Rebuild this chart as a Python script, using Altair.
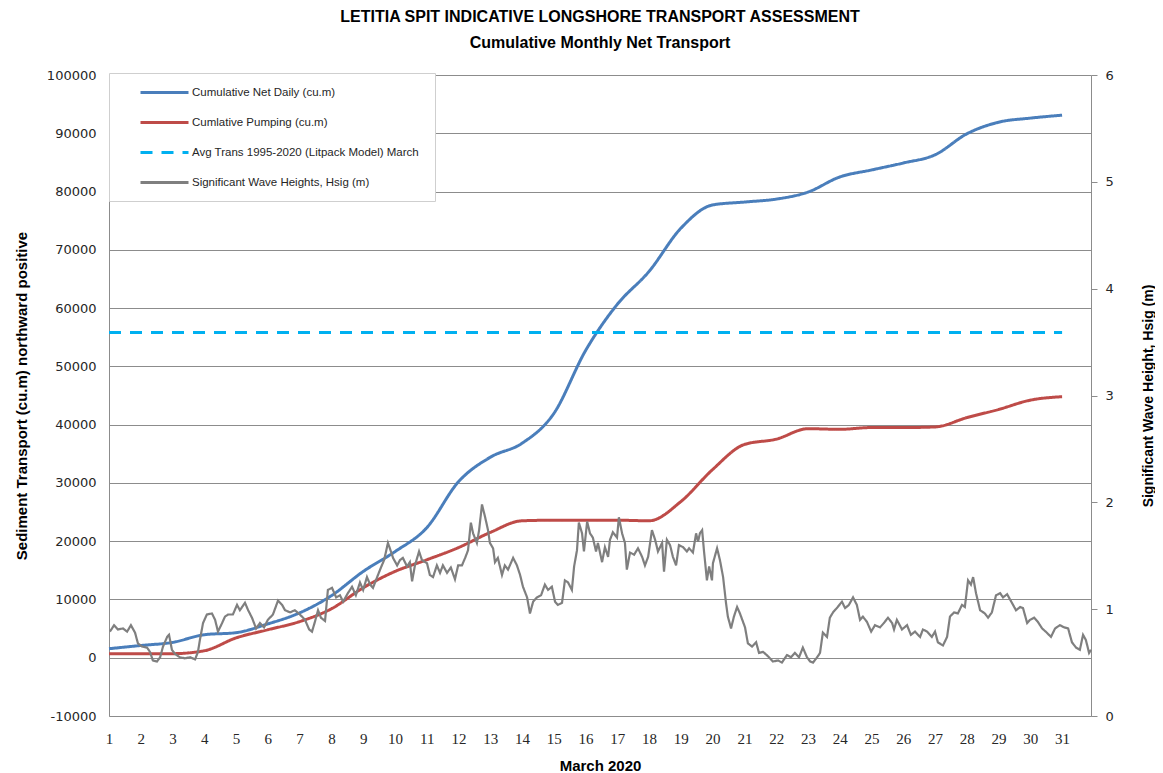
import altair as alt
import pandas as pd

# ---------------- data ----------------
days = list(range(1, 32))
net_daily = [1550, 2100, 2630, 3950, 4300, 5800, 7700, 10650, 14800, 18200, 22300,
             30200, 34400, 36800, 41900, 52700, 60650, 66300, 73700, 77700, 78200,
             78700, 79900, 82500, 83700, 84900, 86300, 89900, 91900, 92600, 93100]
pumping = [700, 700, 700, 1200, 3400, 4800, 6200, 8400, 12000, 14800, 16800,
           18900, 21500, 23500, 23600, 23600, 23600, 23500, 26800, 32300, 36600,
           37500, 39300, 39200, 39500, 39500, 39600, 41200, 42600, 44200, 44800]
avg_days = [1, 31]
avg_trans = [55800, 55800]

wave_day = [1.03, 1.16, 1.28, 1.44, 1.57, 1.69, 1.82, 1.91, 2.04, 2.20,
            2.29, 2.38, 2.51, 2.61, 2.70, 2.83, 2.89, 2.98, 3.08, 3.23,
            3.39, 3.55, 3.71, 3.80, 3.86, 3.96, 4.08, 4.24, 4.34, 4.43,
            4.56, 4.65, 4.75, 4.90, 5.03, 5.12, 5.28, 5.38, 5.50, 5.63,
            5.75, 5.88, 6.00, 6.16, 6.32, 6.45, 6.54, 6.70, 6.85, 7.01,
            7.17, 7.30, 7.39, 7.48, 7.58, 7.67, 7.80, 7.89, 8.02, 8.15,
            8.27, 8.37, 8.52, 8.65, 8.77, 8.90, 9.00, 9.12, 9.22, 9.31,
            9.44, 9.56, 9.66, 9.78, 9.84, 9.94, 10.07, 10.16, 10.25, 10.38,
            10.47, 10.54, 10.63, 10.76, 10.85, 11.01, 11.10, 11.20, 11.32, 11.42,
            11.51, 11.64, 11.76, 11.89, 11.99, 12.11, 12.21, 12.30, 12.39, 12.46,
            12.58, 12.65, 12.74, 12.84, 12.93, 12.99,
            13.09, 13.15, 13.24, 13.37, 13.46, 13.56, 13.72, 13.84, 13.94, 14.03,
            14.16, 14.25, 14.35, 14.47, 14.60, 14.72, 14.82, 14.94, 15.04, 15.13,
            15.26, 15.35, 15.45, 15.57, 15.64, 15.73, 15.79, 15.89, 15.95, 16.05,
            16.14, 16.23, 16.33, 16.39, 16.52, 16.61, 16.71, 16.77, 16.86, 16.99,
            17.05, 17.15, 17.24, 17.30, 17.40, 17.53, 17.65, 17.78, 17.87, 17.97,
            18.09, 18.19, 18.28, 18.41, 18.47, 18.56, 18.66, 18.75, 18.85, 18.94,
            19.07, 19.19, 19.26, 19.38, 19.48, 19.54, 19.60,
            19.67, 19.73, 19.82, 19.89, 19.98, 20.01, 20.14, 20.23, 20.33, 20.42,
            20.48, 20.58, 20.67, 20.77, 20.86, 21.02, 21.11, 21.24, 21.37, 21.46,
            21.59, 21.74, 21.90, 22.06, 22.18, 22.34, 22.47, 22.59, 22.72, 22.84,
            22.97, 23.07, 23.16, 23.29, 23.38, 23.47, 23.60, 23.69, 23.79, 23.91,
            24.07, 24.17, 24.29, 24.42, 24.54, 24.64, 24.73, 24.86, 24.99, 25.11,
            25.27, 25.39, 25.52, 25.65,
            25.71, 25.80, 25.96, 26.12, 26.24, 26.37, 26.53, 26.62, 26.75, 26.90,
            27.00, 27.09, 27.25, 27.38, 27.47, 27.60, 27.72, 27.85, 27.94, 28.04,
            28.13, 28.20, 28.29, 28.42, 28.57, 28.67, 28.79, 28.92, 29.05, 29.14,
            29.27, 29.42, 29.55, 29.68, 29.77, 29.90, 29.99, 30.12, 30.24, 30.37,
            30.52, 30.65, 30.78, 30.93, 31.06, 31.19, 31.31, 31.44, 31.56, 31.66,
            31.75, 31.85, 31.91]
wave_hsig = [0.79, 0.85, 0.81, 0.82, 0.79, 0.85, 0.78, 0.68, 0.65, 0.64,
             0.60, 0.52, 0.51, 0.55, 0.65, 0.74, 0.76, 0.62, 0.58, 0.55,
             0.54, 0.55, 0.53, 0.60, 0.71, 0.87, 0.95, 0.96, 0.90, 0.79,
             0.87, 0.93, 0.95, 0.95, 1.04, 0.99, 1.06, 0.99, 0.92, 0.82,
             0.87, 0.83, 0.90, 0.95, 1.08, 1.04, 0.99, 0.97, 0.99, 0.95,
             0.90, 0.81, 0.79, 0.88, 0.99, 0.92, 0.89, 1.18, 1.20, 1.11,
             1.13, 1.07, 1.15, 1.21, 1.13, 1.25, 1.18, 1.30, 1.23, 1.20,
             1.30, 1.39, 1.46, 1.62, 1.57, 1.48, 1.41, 1.46, 1.48, 1.40,
             1.44, 1.26, 1.41, 1.54, 1.46, 1.43, 1.32, 1.30, 1.41, 1.34,
             1.41, 1.34, 1.39, 1.28, 1.41, 1.41, 1.48, 1.55, 1.81, 1.71,
             1.62, 1.74, 1.98, 1.86, 1.74, 1.62,
             1.57, 1.44, 1.48, 1.32, 1.41, 1.37, 1.48, 1.41, 1.32, 1.21,
             1.11, 0.96, 1.07, 1.11, 1.13, 1.23, 1.18, 1.21, 1.07, 1.04,
             1.06, 1.27, 1.25, 1.18, 1.40, 1.55, 1.81, 1.71, 1.54, 1.82,
             1.71, 1.67, 1.54, 1.62, 1.44, 1.58, 1.49, 1.65, 1.72, 1.67,
             1.86, 1.71, 1.62, 1.37, 1.53, 1.51, 1.57, 1.49, 1.41, 1.49,
             1.74, 1.65, 1.54, 1.62, 1.35, 1.65, 1.60, 1.49, 1.41, 1.60,
             1.58, 1.54, 1.57, 1.53, 1.71, 1.63, 1.71,
             1.74, 1.54, 1.27, 1.40, 1.27, 1.43, 1.57, 1.46, 1.30, 1.06,
             0.93, 0.82, 0.93, 1.02, 0.96, 0.83, 0.68, 0.65, 0.69, 0.59,
             0.60, 0.56, 0.51, 0.52, 0.50, 0.57, 0.55, 0.59, 0.55, 0.64,
             0.55, 0.51, 0.50, 0.55, 0.59, 0.78, 0.74, 0.92, 0.97, 1.01,
             1.07, 1.01, 1.04, 1.11, 1.04, 0.90, 0.93, 0.88, 0.79, 0.85,
             0.83, 0.87, 0.92, 0.87,
             0.81, 0.90, 0.81, 0.85, 0.76, 0.79, 0.74, 0.81, 0.79, 0.74,
             0.79, 0.69, 0.66, 0.74, 0.93, 0.97, 0.96, 1.04, 1.02, 1.27,
             1.23, 1.30, 1.15, 0.99, 0.96, 0.92, 0.97, 1.13, 1.15, 1.11,
             1.14, 1.06, 0.99, 1.02, 1.01, 0.87, 0.90, 0.92, 0.88, 0.82,
             0.78, 0.74, 0.82, 0.85, 0.83, 0.82, 0.69, 0.64, 0.62, 0.76,
             0.71, 0.59, 0.62]

series_names = ["Cumulative Net Daily (cu.m)",
                "Cumlative Pumping (cu.m)",
                "Avg  Trans 1995-2020 (Litpack Model) March",
                "Significant Wave Heights, Hsig (m)"]
series_colors = ["#4A7EBB", "#BE4B48", "#00B0F0", "#7F7F7F"]
series_dash = [[1, 0], [1, 0], [12, 9], [1, 0]]

# ---------------- tables ----------------
left_df = pd.concat([
    pd.DataFrame({"day": days, "value": net_daily, "series": series_names[0]}),
    pd.DataFrame({"day": days, "value": pumping, "series": series_names[1]}),
    pd.DataFrame({"day": avg_days, "value": avg_trans, "series": series_names[2]}),
], ignore_index=True)
wave_df = pd.DataFrame({"day": wave_day, "hsig": wave_hsig, "series": series_names[3]})

GRID = "#8C8C8C"
TXT = "#262626"

x_enc = alt.X("day:Q",
              scale=alt.Scale(domain=[1, 31.91], nice=False, zero=False),
              axis=alt.Axis(title="March 2020", values=days, format="d", grid=False,
                            tickSize=0, domainColor=GRID, labelPadding=15,
                            labelFont="Liberation Sans Narrow", labelFontSize=15,
                            labelColor=TXT, labelOverlap=False, labelFlush=False,
                            titleFont="Liberation Sans", titleFontSize=15,
                            titleFontWeight="bold", titleColor="#000000",
                            titlePadding=12))

legend = alt.Legend(title=None, orient="none", legendX=0, legendY=-2,
                    symbolType="M-4,0H4", symbolSize=144, symbolStrokeWidth=3,
                    symbolOffset=36, labelOffset=20, padding=12, rowPadding=16,
                    fillColor="white", strokeColor="#CFCFCF",
                    labelFont="Liberation Sans", labelFontSize=11.5,
                    labelColor=TXT, labelLimit=500)

color_enc = alt.Color("series:N", scale=alt.Scale(domain=series_names, range=series_colors),
                      legend=legend)
dash_enc = alt.StrokeDash("series:N", scale=alt.Scale(domain=series_names, range=series_dash),
                          legend=legend)

left = alt.Chart(left_df).mark_line(strokeWidth=3, interpolate="monotone").encode(
    x=x_enc,
    y=alt.Y("value:Q",
            scale=alt.Scale(domain=[-10000, 100000], nice=False),
            axis=alt.Axis(title="Sediment Transport (cu.m) northward positive",
                          values=list(range(-10000, 100001, 10000)),
                          labelExpr="'' + datum.value",
                          grid=True, gridColor=GRID, gridWidth=1, domainColor=GRID,
                          tickSize=0, labelPadding=13, labelFont="DejaVu Sans",
                          labelFontSize=13, labelColor=TXT,
                          titleFont="Liberation Sans", titleFontSize=15,
                          titleFontWeight="bold", titleColor="#000000",
                          titlePadding=17)),
    color=color_enc,
    strokeDash=dash_enc,
    detail="series:N",
)

wave = alt.Chart(wave_df).mark_line(strokeWidth=2.2).encode(
    x=x_enc,
    y=alt.Y("hsig:Q",
            scale=alt.Scale(domain=[0, 6], nice=False),
            axis=alt.Axis(orient="right", title="Significant Wave Height, Hsig (m)",
                          values=[0, 1, 2, 3, 4, 5, 6], format="d", grid=False,
                          tickSize=6, tickColor=GRID, domainColor=GRID,
                          labelPadding=8, labelFont="DejaVu Sans", labelFontSize=13,
                          labelColor=TXT, titleAngle=-90,
                          titleFont="Liberation Sans", titleFontSize=14,
                          titleFontWeight="bold", titleColor="#000000",
                          titlePadding=42)),
    color=color_enc,
    strokeDash=dash_enc,
)

chart = alt.layer(left, wave).resolve_scale(y="independent").properties(
    width=982,
    height=641,
    title=alt.Title(["LETITIA SPIT INDICATIVE LONGSHORE TRANSPORT ASSESSMENT",
                     "Cumulative Monthly Net Transport"],
                    font="Liberation Sans", fontSize=16, fontWeight="bold",
                    lineHeight=26, offset=18, anchor="middle", color="#000000"),
    autosize=alt.AutoSizeParams(type="none"),
    padding={"left": 101, "top": 67, "right": 64, "bottom": 57},
    background="white",
).configure_view(stroke=None)

chart.save("out.html", embed_options={"renderer": "svg", "actions": False})
